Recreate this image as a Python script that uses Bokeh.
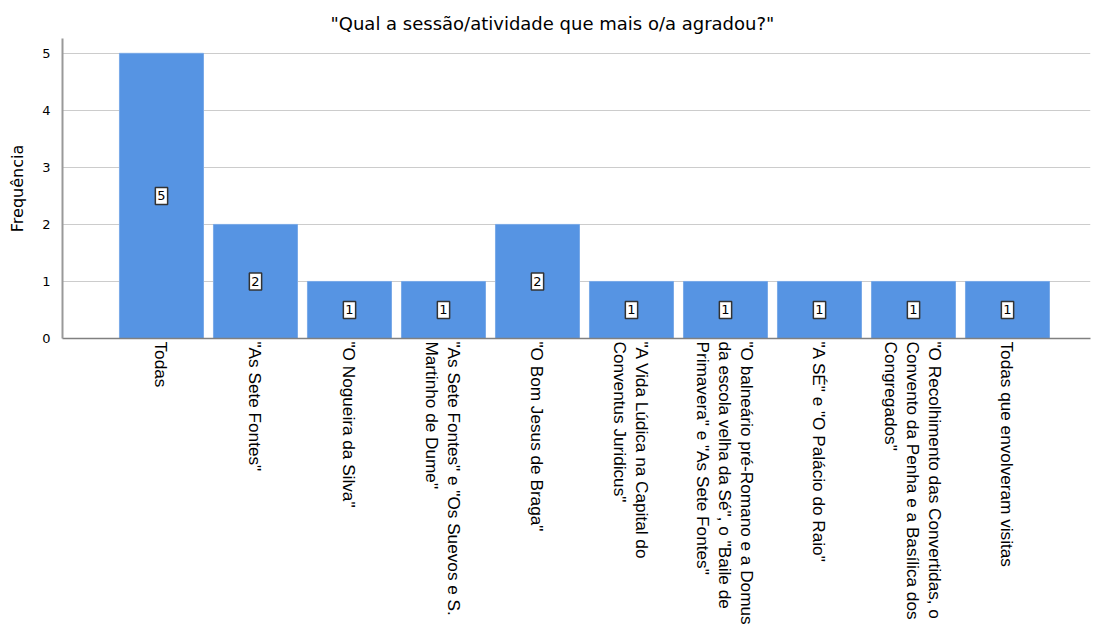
import math
from bokeh.plotting import figure
from bokeh.models import ColumnDataSource, FixedTicker, Range1d
from bokeh.core.properties import value
from bokeh.embed import file_html
from bokeh.resources import INLINE

title_text = '"Qual a sessão/atividade que mais o/a agradou?"'
y_label = "Frequência"
categories = [
    'Todas',
    '"As Sete Fontes"',
    '"O Nogueira da Silva"',
    '"As Sete Fontes" e "Os Suevos e S.\nMartinho de Dume"',
    '"O Bom Jesus de Braga"',
    '"A Vida Lúdica na Capital do\nConventus Juridicus"',
    '"O balneário pré-Romano e a Domus\nda escola velha da Sé", o "Baile de\nPrimavera" e "As Sete Fontes"',
    '"A SÉ" e "O Palácio do Raio"',
    '"O Recolhimento das Convertidas, o\nConvento da Penha e a Basílica dos\nCongregados"',
    'Todas que envolveram visitas',
]
counts = [5, 2, 1, 1, 2, 1, 1, 1, 1, 1]
y_ticks = [0, 1, 2, 3, 4, 5]

xs = list(range(len(categories)))
source = ColumnDataSource(dict(
    x=xs,
    count=counts,
    mid=[c / 2 for c in counts],
    label=[str(c) for c in counts],
))

p = figure(width=1095, height=628, output_backend="svg", toolbar_location=None,
           x_range=Range1d(-1.053, 9.883), y_range=Range1d(0, 5.26),
           min_border_left=62, min_border_right=5, min_border_top=38, min_border_bottom=290)

p.title.text = title_text
p.title.text_font = "DejaVu Sans"
p.title.text_font_size = "18px"
p.title.text_font_style = "normal"
p.title.align = "left"
p.title.offset = 268
p.title.text_color = "#000000"

p.vbar(x="x", top="count", width=0.894, source=source,
       fill_color="#5694E3", line_color="#7AAAE8", line_width=1)

p.text(x="x", y="mid", text="label", source=source,
       text_align="center", text_baseline="middle",
       text_font=value("DejaVu Sans"), text_font_size="13px", text_color="#000000",
       background_fill_color="#ffffff", border_line_color="#333333",
       border_line_width=1.5, padding=(2, 4))

p.outline_line_color = None
p.xgrid.visible = False
p.ygrid.ticker = FixedTicker(ticks=y_ticks)
p.ygrid.grid_line_color = "#cccccc"
p.ygrid.grid_line_width = 1

p.yaxis.ticker = FixedTicker(ticks=y_ticks)
p.yaxis.axis_label = y_label
p.yaxis.axis_label_text_font = "DejaVu Sans"
p.yaxis.axis_label_text_font_size = "16px"
p.yaxis.axis_label_text_font_style = "normal"
p.yaxis.axis_label_text_color = "#000000"
p.yaxis.axis_label_standoff = 12
p.yaxis.major_label_text_font = "DejaVu Sans"
p.yaxis.major_label_text_font_size = "13px"
p.yaxis.major_label_text_color = "#000000"
p.yaxis.major_label_standoff = 6
p.yaxis.major_tick_line_color = None
p.yaxis.minor_tick_line_color = None
p.yaxis.axis_line_color = "#999999"
p.yaxis.axis_line_width = 2

p.xaxis.ticker = FixedTicker(ticks=xs)
p.xaxis.major_label_overrides = {i: c for i, c in zip(xs, categories)}
p.xaxis.major_label_orientation = -math.pi / 2
p.xaxis.major_label_text_font = "Liberation Sans"
p.xaxis.major_label_text_font_size = "17.2px"
p.xaxis.major_label_text_color = "#000000"
p.xaxis.major_label_text_line_height = 1.1
p.xaxis.major_label_standoff = -3
p.xaxis.major_tick_line_color = None
p.xaxis.minor_tick_line_color = None
p.xaxis.axis_line_color = "#808080"
p.xaxis.axis_line_width = 1.5

open("out.html", "w").write(file_html(p, INLINE))
